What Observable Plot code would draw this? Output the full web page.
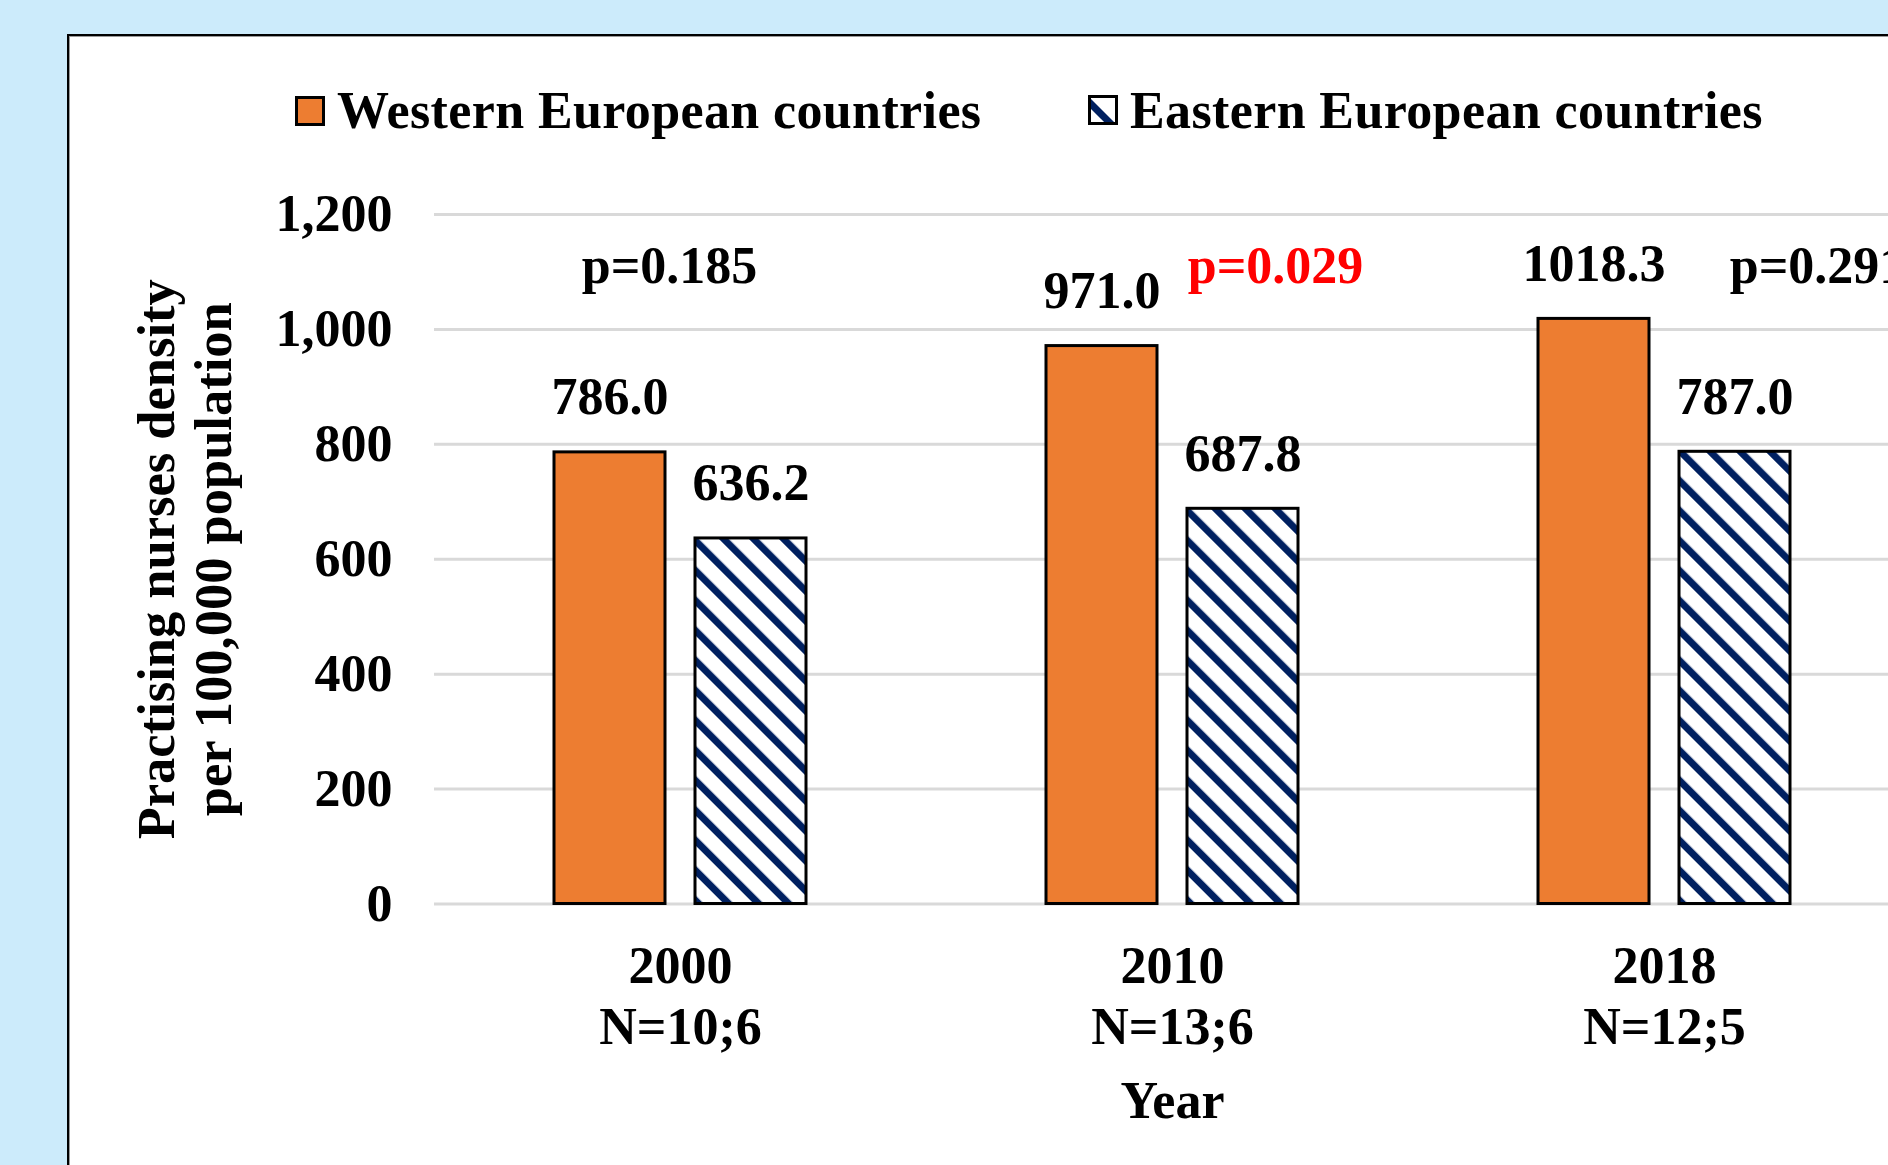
<!DOCTYPE html>
<html>
<head>
<meta charset="utf-8">
<script src="https://cdn.jsdelivr.net/npm/d3@7"></script>
<script src="https://cdn.jsdelivr.net/npm/@observablehq/plot@0.6"></script>
<style>
html, body { margin: 0; padding: 0; width: 1888px; height: 1165px; overflow: hidden; background: #CCEBFB; }
#panel { position: absolute; left: 67px; top: 34px; width: 1900px; height: 1250px; background: #fff; border: 2px solid #000; box-sizing: border-box; box-shadow: inset 1px 1px 0 #9a9a9a; }
#chart { position: absolute; left: 0; top: 0; width: 1930px; height: 1165px; }
.leg { position: absolute; font-family: 'Liberation Serif', 'Times New Roman', serif; font-weight: bold; font-size: 52px; line-height: 52px; white-space: nowrap; color: #000; letter-spacing: 0.38px; }
.sw { position: absolute; }
</style>
</head>
<body>
<svg width="0" height="0" style="position:absolute">
  <defs>
    <pattern id="hatch" patternUnits="userSpaceOnUse" width="21.2" height="21.2" patternTransform="rotate(-45)">
      <rect width="21.2" height="21.2" fill="#ffffff"></rect>
      <rect x="0" y="0" width="7" height="21.2" fill="#002060"></rect>
    </pattern>
  </defs>
</svg>
<div id="panel"></div>
<div id="legend"></div>
<div id="chart"></div>
<script>
// ---- data ----
const years = [2000, 2010, 2018];
const series = ["Western European countries", "Eastern European countries"];
const western = [786.0, 971.0, 1018.3];
const eastern = [636.2, 687.8, 787.0];
const nWestern = [10, 13, 12];
const nEastern = [6, 6, 5];
const pValues = [0.185, 0.029, 0.291];
const yTicks = [0, 200, 400, 600, 800, 1000, 1200];
const yTitle = "Practising nurses density\nper 100,000 population";
const xTitle = "Year";

// ---- styles ----
const orange = "#ED7D31";
const navy = "#002060";

const bars = years.flatMap((year, i) => [
  {year, series: series[0], value: western[i]},
  {year, series: series[1], value: eastern[i]}
]);
const pTable = years.map((year, i) => ({year, p: pValues[i]}));
const pDx = [-11, 103, 153];

// ---- legend (HTML) ----
const legend = document.getElementById("legend");
function addLegend(name, swLeft, swTop, textLeft, hatched) {
  const ns = "http://www.w3.org/2000/svg";
  const s = document.createElementNS(ns, "svg");
  s.setAttribute("class", "sw");
  s.setAttribute("width", 30); s.setAttribute("height", 30);
  s.style.left = swLeft + "px"; s.style.top = swTop + "px";
  if (hatched) {
    s.innerHTML = `<rect x="1.5" y="1.5" width="27" height="27" fill="#fff"/>
      <clipPath id="swclip"><rect x="1.5" y="1.5" width="27" height="27"/></clipPath>
      <line x1="-2" y1="4" x2="24" y2="30" stroke="${navy}" stroke-width="7" clip-path="url(#swclip)"/>
      <rect x="1.5" y="1.5" width="27" height="27" fill="none" stroke="#000" stroke-width="3"/>`;
  } else {
    s.innerHTML = `<rect x="1.5" y="1.5" width="27" height="27" fill="${orange}" stroke="#000" stroke-width="3"/>`;
  }
  legend.appendChild(s);
  const t = document.createElement("div");
  t.className = "leg";
  t.textContent = name;
  t.style.left = textLeft + "px";
  t.style.top = "84.5px";
  legend.appendChild(t);
}
addLegend(series[0], 295, 96, 337, false);
addLegend(series[1], 1088, 95, 1130, true);

// ---- chart ----
const W = 1930, H = 1165;
const chart = Plot.plot({
  width: W,
  height: H,
  marginLeft: 434,
  marginRight: W - 1910,
  marginTop: 214,
  marginBottom: H - 903.5,
  style: {
    fontFamily: "'Liberation Serif', 'Times New Roman', serif",
    fontSize: "52px",
    fontWeight: "bold",
    background: "transparent",
    color: "#000",
    overflow: "visible",
    maxWidth: "none"
  },
  fx: {domain: years, padding: 0},
  x: {domain: series, paddingInner: 0.211, paddingOuter: 0.838, axis: null},
  y: {domain: [0, 1200]},
  color: {domain: series, range: [orange, "url(#hatch)"]},
  marks: [
    Plot.gridY(yTicks, {stroke: "#d9d9d9", strokeWidth: 3, strokeOpacity: 1}),
    Plot.barY(bars, {fx: "year", x: "series", y: "value", fill: "series", stroke: "#000", strokeWidth: 3}),
    Plot.text(bars, {fx: "year", x: "series", y: "value", text: d => d.value.toFixed(1), lineAnchor: "bottom", dy: -38, fill: "#000"}),
    ...pTable.map((d, i) => Plot.text([d], {
      fx: "year",
      text: r => `p=${r.p.toFixed(3)}`,
      frameAnchor: "top",
      lineAnchor: "bottom",
      dy: 68,
      dx: pDx[i],
      fill: d.p < 0.05 ? "#FF0000" : "#000"
    })),
    Plot.axisY({ticks: yTicks, tickFormat: d3.format(","), tickSize: 0, tickPadding: 42, label: null}),
    Plot.axisFx({
      anchor: "bottom",
      tickSize: 0,
      tickPadding: 36,
      tickFormat: d => `${d}\nN=${nWestern[years.indexOf(d)]};${nEastern[years.indexOf(d)]}`,
      lineHeight: 1.17,
      label: xTitle,
      labelAnchor: "center",
      labelOffset: 213.5
    }),
    Plot.text([{year: years[0]}], {
      fx: "year",
      text: () => yTitle,
      frameAnchor: "left",
      textAnchor: "middle",
      rotate: -90,
      lineAnchor: "top",
      dx: -302,
      lineHeight: 1.1,
      fontSize: 52.5
    })
  ]
});
document.getElementById("chart").appendChild(chart);
</script>
</body>
</html>
